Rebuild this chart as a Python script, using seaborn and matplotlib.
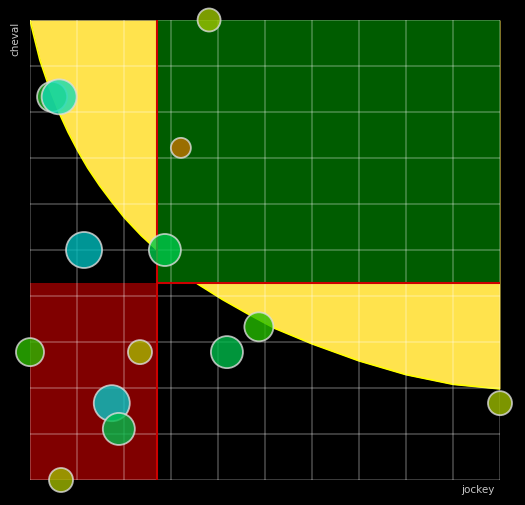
import matplotlib
matplotlib.use("Agg")
from matplotlib import pyplot as plt
import pandas as pd
import seaborn as sns

# bulles (jockey, cheval, poids)
jockey = [38.1, 4.7, 6.2, 32.1, 11.5, 28.7, 0.0, 23.4, 41.9, 48.7, 17.4, 18.9, 6.6, 100.0]
cheval = [100.0, 83.3, 83.3, 72.2, 50.0, 50.0, 27.8, 27.8, 27.8, 33.3, 16.7, 11.1, 0.0, 16.7]
rayon = [11.5, 15, 17.5, 10, 18, 16, 14, 12, 16, 14.5, 18, 16, 12, 12]
couleurs = ['#9bc400', '#2db82d', '#14dcb4', '#c27300', '#00bcbc', '#00c84b', '#2db900',
            '#a8b800', '#00bc4b', '#25bb00', '#05c8c8', '#00bc4b', '#a0b800', '#9cbc00']

# courbe limite
courbe_x = [0, 1, 2.1, 4, 6.3, 8.1, 10.2, 12.3, 14.8, 17.3, 20.1, 23.7, 26.9, 31,
            35.7, 41, 46.2, 52, 60, 70, 80, 90, 100]
courbe_y = [100, 95.8, 91.3, 85.6, 79.6, 75.6, 71.5, 67.8, 64.0, 60.6, 57.0, 53.1, 50.1, 46.3,
            42.6, 39.2, 36.2, 33.0, 29.6, 25.9, 22.9, 20.8, 19.8]

# seuils des zones
seuil_jockey = 27.0
seuil_cheval = 42.8

df = pd.DataFrame({"jockey": jockey, "cheval": cheval,
                   "poids": [r ** 2 for r in rayon],
                   "nom": ["b%d" % i for i in range(len(jockey))]})

sns.set_style("dark", {"axes.facecolor": "black", "figure.facecolor": "black"})
plt.rcParams['font.family'] = ['DejaVu Sans']

fig = plt.figure(figsize=(5.25, 5.05), dpi=100)
ax = fig.add_axes([30 / 525, 25 / 505, 470 / 525, 460 / 505])
ax.set_facecolor("black")

ax.fill_between(courbe_x, courbe_y, 100, color='#ffe34d', lw=0, zorder=0.1)
ax.plot(courbe_x, courbe_y, color='#ffff00', lw=1.2, zorder=0.15)
ax.fill_between([seuil_jockey, 100], seuil_cheval, 100, color='#005c00', lw=0, zorder=0.2)
ax.fill_between([0, seuil_jockey], 0, seuil_cheval, color='#800000', lw=0, zorder=0.2)

ax.vlines(seuil_jockey, 0, 100, color='#cc0000', lw=1.5, zorder=1)
ax.hlines(seuil_cheval, seuil_jockey, 100, color='#cc0000', lw=1.5, zorder=1)

pmin, pmax = min(df.poids), max(df.poids)
k = (2 * 0.72) ** 2
sns.scatterplot(data=df, x="jockey", y="cheval", hue="nom", palette=couleurs,
                size="poids", sizes=(k * pmin, k * pmax), alpha=0.8,
                edgecolor='#dddddd', linewidth=1.3, legend=False, ax=ax,
                clip_on=False, zorder=3)

ax.set_xlim(0, 100)
ax.set_ylim(0, 100)
ax.set_xticks(range(0, 101, 10))
ax.set_yticks(range(0, 101, 10))
ax.set_axisbelow(True)
ax.grid(True, color='white', alpha=0.3, lw=1.1)
ax.tick_params(length=0, labelbottom=False, labelleft=False)
for s in ax.spines.values():
    s.set_visible(False)
ax.set_xlabel("")
ax.set_ylabel("")

fig.text(495 / 525, 1 - 490 / 505, "jockey", color='#c8c8c8', fontsize=7.5,
         ha='right', va='center')
fig.text(15 / 525, 1 - 22 / 505, "cheval", color='#c8c8c8', fontsize=7.5,
         rotation=90, ha='center', va='top')

fig.savefig("out.png", dpi=100, facecolor="black")
